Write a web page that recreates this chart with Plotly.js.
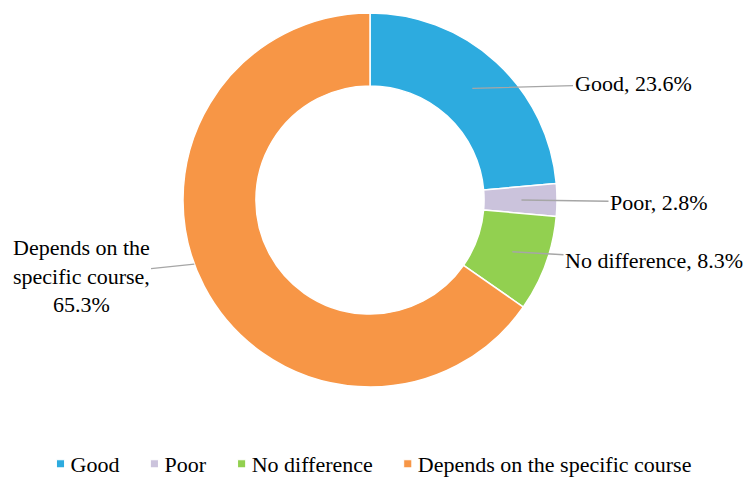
<!DOCTYPE html>
<html>
<head>
<meta charset="utf-8">
<script src="https://cdn.plot.ly/plotly-3.0.1.min.js"></script>
<style>
  html, body { margin: 0; padding: 0; background: #ffffff; }
  #chart { width: 749px; height: 478px; }
</style>
</head>
<body>
<div id="chart"></div>
<script>
// ---- data ----
var categories = ["Good", "Poor", "No difference", "Depends on the specific course"];
var values = [23.6, 2.8, 8.3, 65.3];
var labelTexts = ["Good, 23.6%", "Poor, 2.8%", "No difference, 8.3%", "Depends on the<br>specific course,<br>65.3%"];
var colors = ["#2DABDF", "#CBC3DC", "#92D050", "#F79646"];

// ---- layout parameters (pixels) ----
var W = 749, H = 478;
var cx = 370, cy = 200, R = 187;
var labelPos = [[633, 84], [659, 202], [654, 260], [81, 276]];   // text centres
var leaderRadius = [0.81, 0.81, 0.81, 1.0];                       // fraction of R
var leaderShift = [0, 0, 0, 7.5];                                 // degrees
var FONT = "Liberation Serif";

var total = values.reduce(function (a, b) { return a + b; }, 0);
var annotations = [];
var cum = 0;
for (var i = 0; i < values.length; i++) {
  var mid = (cum + values[i] / 2) / total * 360 + leaderShift[i];
  cum += values[i];
  var rad = mid * Math.PI / 180;
  var hx = cx + R * leaderRadius[i] * Math.sin(rad);
  var hy = cy - R * leaderRadius[i] * Math.cos(rad);
  annotations.push({
    xref: "paper", yref: "paper",
    x: hx / W, y: 1 - hy / H,
    ax: labelPos[i][0] - hx, ay: labelPos[i][1] - hy,
    text: labelTexts[i],
    showarrow: true, arrowhead: 0, arrowwidth: 1.3, arrowcolor: "#A6A6A6",
    standoff: 0, startstandoff: 0,
    align: "center",
    font: { family: FONT, size: 22, color: "#000000" }
  });
}

var trace = {
  type: "pie",
  labels: categories,
  values: values,
  hole: 0.61,
  sort: false,
  direction: "clockwise",
  rotation: 0,
  textinfo: "none",
  hoverinfo: "none",
  marker: { colors: colors, line: { color: "#ffffff", width: 1.5 } },
  domain: { x: [(cx - R) / W, (cx + R) / W], y: [1 - (cy + R) / H, 1 - (cy - R) / H] }
};

var layout = {
  width: W, height: H,
  margin: { l: 0, r: 0, t: 0, b: 0 },
  paper_bgcolor: "#ffffff",
  font: { family: FONT, size: 22, color: "#000000" },
  showlegend: true,
  legend: {
    orientation: "h", x: 0.5 - 11 / W, xanchor: "center", y: 0, yanchor: "bottom",
    font: { family: FONT, size: 22, color: "#000000" },
    traceorder: "normal"
  },
  annotations: annotations
};

function tweakLegend() {
  // smaller legend swatches placed closer to their text, as in the reference
  var sw = document.querySelectorAll("#chart .legend .legendpoints path");
  for (var k = 0; k < sw.length; k++) {
    sw[k].setAttribute("transform", "translate(30,0) scale(0.68)");
  }
  var lg = document.querySelector("#chart .legend");
  if (lg) {
    var t = lg.getAttribute("transform") || "";
    var m = /translate\(\s*([-\d.]+)[ ,]+([-\d.]+)\s*\)/.exec(t);
    if (m) lg.setAttribute("transform", "translate(" + m[1] + "," + (parseFloat(m[2]) + 7) + ")");
  }
}

Plotly.newPlot("chart", [trace], layout, { staticPlot: true, displayModeBar: false }).then(tweakLegend);
</script>
</body>
</html>
